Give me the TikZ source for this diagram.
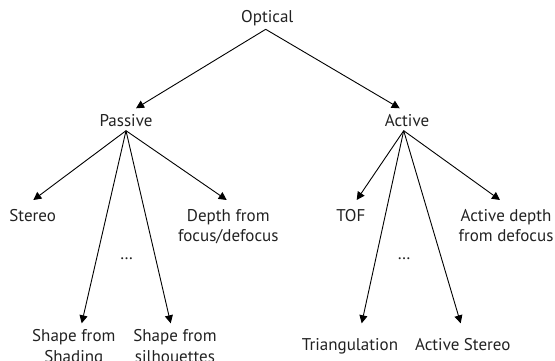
\documentclass[tikz,border=0pt]{standalone}
\usepackage{fontspec}
\setmainfont{PT Sans}
\usetikzlibrary{arrows.meta,calc}
\definecolor{txt}{HTML}{222222}
\begin{document}
\begin{tikzpicture}[x=1pt,y=-1pt,
  lbl/.style={font=\fontsize{17}{20.5}\selectfont, text=txt, inner sep=0pt, anchor=base, align=center},
  arr/.style={line width=0.9pt, -{Triangle[length=8pt,width=8pt]}}]
\useasboundingbox (0,0) rectangle (555,360);
% single-line nodes: base = baseline; two-line nodes: base = baseline of the second line
\node[lbl] (optical) at (267.3,22.7) {Optical};
\node[lbl] (passive) at (126,126.7) {Passive};
\node[lbl] (active) at (407,126.7) {Active};
\node[lbl] (stereo) at (32.7,221) {Stereo};
\node[lbl] (depth) at (228.3,241.5) {Depth from\\focus/defocus};
\node[lbl] (shading) at (73.8,362.2) {Shape from\\Shading};
\node[lbl] (silh) at (175,362.2) {Shape from\\silhouettes};
\node[lbl] (dotsp) at (126.7,259.5) {…};
\node[lbl] (tof) at (350.8,221) {TOF};
\node[lbl] (adepth) at (506,241.5) {Active depth\\from defocus};
\node[lbl] (tri) at (350,350) {Triangulation};
\node[lbl] (astereo) at (462.8,350) {Active Stereo};
\node[lbl] (dotsa) at (404,259.5) {…};
% top level
\draw[arr] ($(optical.base)+(-1.6,6.6)$) -- ($(passive.base)+(10,-18.4)$);
\draw[arr] ($(optical.base)+(-1.6,6.6)$) -- ($(active.base)+(-7.3,-18.4)$);
% passive
\draw[arr] ($(passive.base)+(0,4)$) -- ($(stereo.base)+(0.6,-21)$);
\draw[arr] ($(passive.base)+(0,4)$) -- ($(depth.base)+(-1.6,-41.5)$);
\draw[arr] ($(passive.base)+(0,4)$) -- ($(shading.base)+(7.9,-38.9)$);
\draw[arr] ($(passive.base)+(0,4)$) -- ($(silh.base)+(-4.3,-38.9)$);
% active
\draw[arr] ($(active.base)+(-3.3,4)$) -- ($(tof.base)+(5.9,-21)$);
\draw[arr] ($(active.base)+(-3.3,4)$) -- ($(adepth.base)+(-6,-41.5)$);
\draw[arr] ($(active.base)+(-3.3,4)$) -- ($(tri.base)+(11.7,-26.7)$);
\draw[arr] ($(active.base)+(-3.3,4)$) -- ($(astereo.base)+(-2.1,-26.7)$);
\end{tikzpicture}
\end{document}
